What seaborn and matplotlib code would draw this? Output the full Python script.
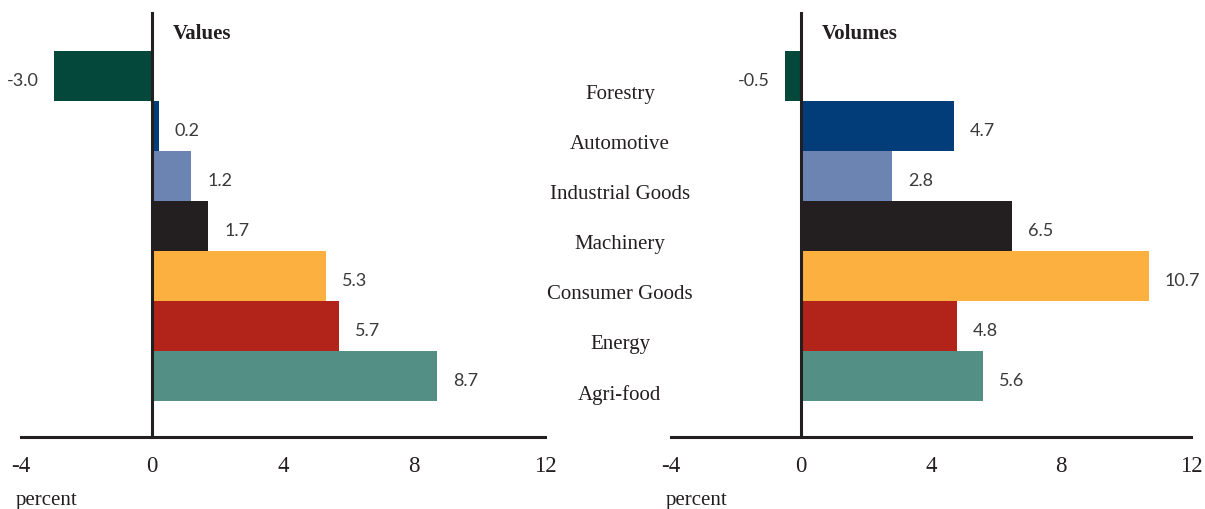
import matplotlib
matplotlib.use("Agg")
import matplotlib.pyplot as plt
import seaborn as sns
import pandas as pd

# data
categories = ['Forestry', 'Automotive', 'Industrial Goods', 'Machinery',
              'Consumer Goods', 'Energy', 'Agri-food']
values = [-3.0, 0.2, 1.2, 1.7, 5.3, 5.7, 8.7]
volumes = [-0.5, 4.7, 2.8, 6.5, 10.7, 4.8, 5.6]
xticks = [-4, 0, 4, 8, 12]

colors = ['#03483a', '#023d7a', '#6b84b1', '#231f20',
          '#fbb040', '#b22419', '#548f85']
text_color = '#231f20'

sns.set_style("white")
plt.rcParams['font.family'] = ['Liberation Serif', 'DejaVu Serif']

df = pd.DataFrame({'category': categories, 'Values': values, 'Volumes': volumes})

fig = plt.figure(figsize=(12.05, 5.09), dpi=100)
ax_left = fig.add_axes([0.0174, 0.1415, 0.4349, 0.833])
ax_right = fig.add_axes([0.5568, 0.1415, 0.4315, 0.833])

for ax, col, title in [(ax_left, 'Values', 'Values'), (ax_right, 'Volumes', 'Volumes')]:
    sns.barplot(data=df, x=col, y='category', hue='category', palette=colors,
                width=1.0, legend=False, orient='h', ax=ax, linewidth=0,
                saturation=1)
    ax.set_xlim(-4, 12)
    ax.set_ylim(7.22, -1.26)
    ax.set_xticks(xticks)
    ax.set_xticklabels([str(t) for t in xticks], fontsize=16.5, color=text_color)
    ax.set_yticks([])
    ax.set_xlabel('')
    ax.set_ylabel('')

    # spines: vertical line at zero, bottom axis line
    ax.spines['top'].set_visible(False)
    ax.spines['right'].set_visible(False)
    ax.spines['left'].set_position(('data', 0))
    for s in ['left', 'bottom']:
        ax.spines[s].set_color(text_color)
        ax.spines[s].set_linewidth(2.2)
    ax.tick_params(axis='x', direction='inout', length=5, width=1.5,
                   color=text_color, pad=11)

    ax.text(0.64, -0.84, title, fontsize=15, fontweight='bold',
            color=text_color, ha='left', va='center')

    # data labels
    for i, v in enumerate(df[col]):
        off = 0.5 if v >= 0 else -0.45
        ax.text(v + off, i + 0.1, f'{v:.1f}', fontsize=13, color='#3a3a3a',
                family=['Lato', 'DejaVu Sans'],
                ha='left' if v >= 0 else 'right', va='center')

    ax.text(-0.01, -0.15, 'percent', transform=ax.transAxes, fontsize=15,
            color=text_color, ha='left', va='center')

# category labels between the two panels
trans = matplotlib.transforms.blended_transform_factory(fig.transFigure, ax_left.transData)
for i, cat in enumerate(categories):
    fig.text(0.5145, i + 0.38, cat, transform=trans, fontsize=15,
             color=text_color, ha='center', va='center')

fig.savefig('out.png', dpi=100)
